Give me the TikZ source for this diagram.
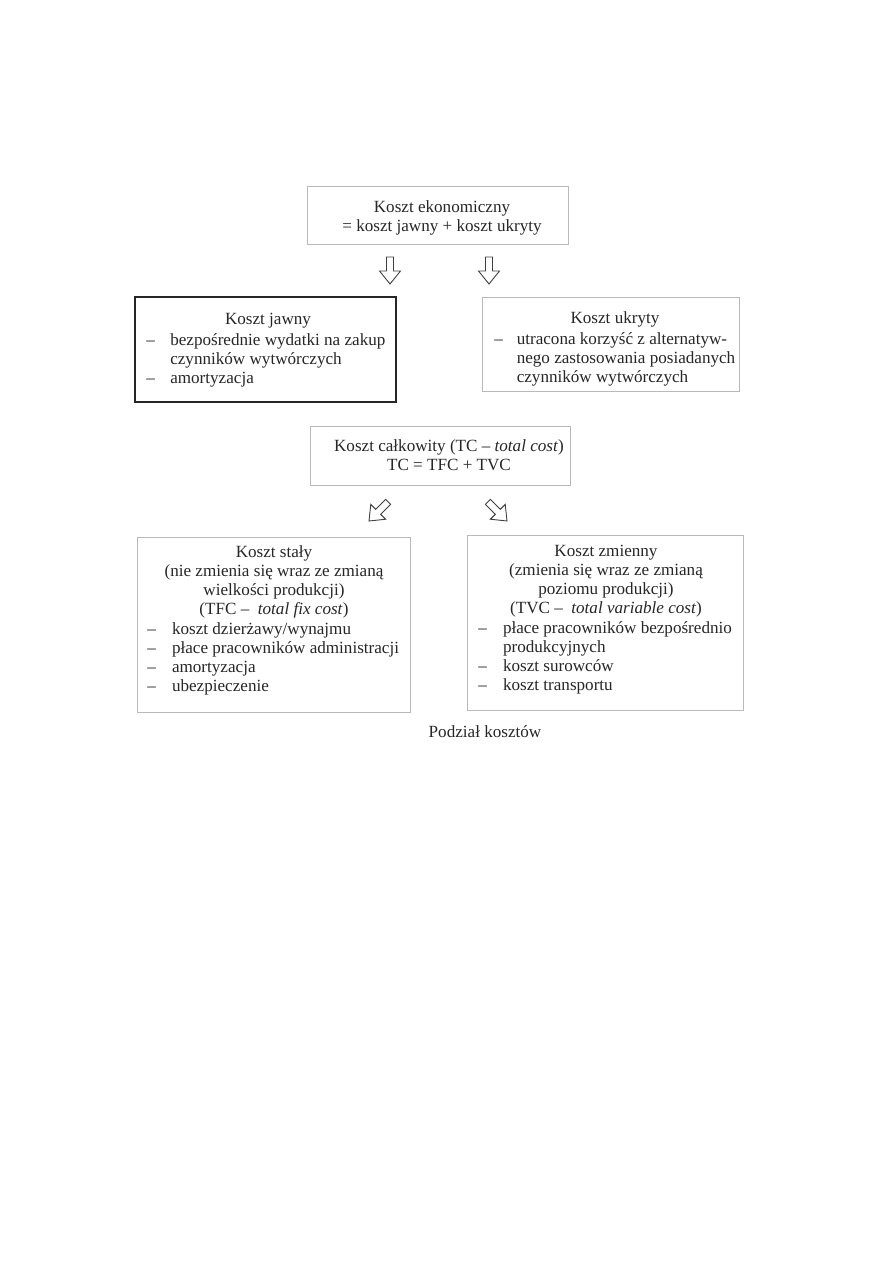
\documentclass[tikz,border=0pt]{standalone}
\usepackage{fontspec}
\setmainfont{Liberation Serif}
\begin{document}
\begin{tikzpicture}[x=0.66667pt,y=-0.66667pt,
  box/.style={draw=gray!55, line width=0.5pt, inner sep=0pt},
  solidbox/.style={draw=black!85, line width=0.8pt, inner sep=0pt},
  txt/.style={inner sep=0pt, anchor=base, font=\fontsize{11.4}{12.8}\selectfont, text=black!85},
  lst/.style={inner sep=0pt, anchor=base west, font=\fontsize{11.4}{12.8}\selectfont, text=black!85},
  barrow/.style={draw=black!75, line width=0.6pt, fill=white, line join=miter},
  blockarrow/.pic={\draw[barrow] (-3.5,-27) -- (3.5,-27) -- (3.5,-13) -- (10.5,-13) -- (0,0) -- (-10.5,-13) -- (-3.5,-13) -- cycle;}]
\useasboundingbox (0,0) rectangle (893,1263);

% boxes
\node[box, minimum width={261*0.66667pt}, minimum height={58*0.66667pt}] (econ) at (437.5,215) {};
\node[solidbox, minimum width={261*0.66667pt}, minimum height={105*0.66667pt}] (jawny) at (265.5,349.5) {};
\node[box, minimum width={257*0.66667pt}, minimum height={94*0.66667pt}] (ukryty) at (610.5,344) {};
\node[box, minimum width={260*0.66667pt}, minimum height={59*0.66667pt}] (tc) at (440,455.5) {};
\node[box, minimum width={273*0.66667pt}, minimum height={175*0.66667pt}] (staly) at (273.5,624.5) {};
\node[box, minimum width={276*0.66667pt}, minimum height={175*0.66667pt}] (zmienny) at (605,622.5) {};

% block arrows
\pic at (390,284) {blockarrow};
\pic at (489,284) {blockarrow};
\pic[rotate=-45] at (369,521) {blockarrow};
\pic[rotate=45] at (507,521) {blockarrow};

% texts
\node[txt] (econT) at (442,212) {\begin{tabular}[t]{@{}c@{}}Koszt ekonomiczny\\= koszt jawny + koszt ukryty\end{tabular}};

\node[txt] (jawnyT) at (268,324) {Koszt jawny};
\node[lst] (jawnyL) at (146,345) {\begin{tabular}[t]{@{}p{16pt}@{}l@{}}–& bezpośrednie wydatki na zakup\\ & czynników wytwórczych\\ –& amortyzacja\end{tabular}};

\node[txt] (ukrytyT) at (615,323) {Koszt ukryty};
\node[lst] (ukrytyL) at (494,344) {\begin{tabular}[t]{@{}p{15pt}@{}l@{}}–& utracona korzyść z alternatyw-\\ & nego zastosowania posiadanych\\ & czynników wytwórczych\end{tabular}};

\node[txt] (tcT) at (449,451) {\begin{tabular}[t]{@{}c@{}}Koszt całkowity (TC – \textit{total cost})\\TC = TFC + TVC\end{tabular}};

\node[txt] (stalyT) at (274,557) {\begin{tabular}[t]{@{}c@{}}Koszt stały\\(nie zmienia się wraz ze zmianą\\wielkości produkcji)\\(TFC –\ \ \textit{total fix cost})\end{tabular}};
\node[lst] (stalyL) at (147,634) {\begin{tabular}[t]{@{}p{16.5pt}@{}l@{}}–& koszt dzierżawy/wynajmu\\ –& płace pracowników administracji\\ –& amortyzacja\\ –& ubezpieczenie\end{tabular}};

\node[txt] (zmiennyT) at (606,556) {\begin{tabular}[t]{@{}c@{}}Koszt zmienny\\(zmienia się wraz ze zmianą\\poziomu produkcji)\\(TVC –\ \ \textit{total variable cost})\end{tabular}};
\node[lst] (zmiennyL) at (478,633) {\begin{tabular}[t]{@{}p{16.5pt}@{}l@{}}–& płace pracowników bezpośrednio\\ & produkcyjnych\\ –& koszt surowców\\ –& koszt transportu\end{tabular}};

\node[txt] (caption) at (485,737) {Podział kosztów};
\end{tikzpicture}
\end{document}
